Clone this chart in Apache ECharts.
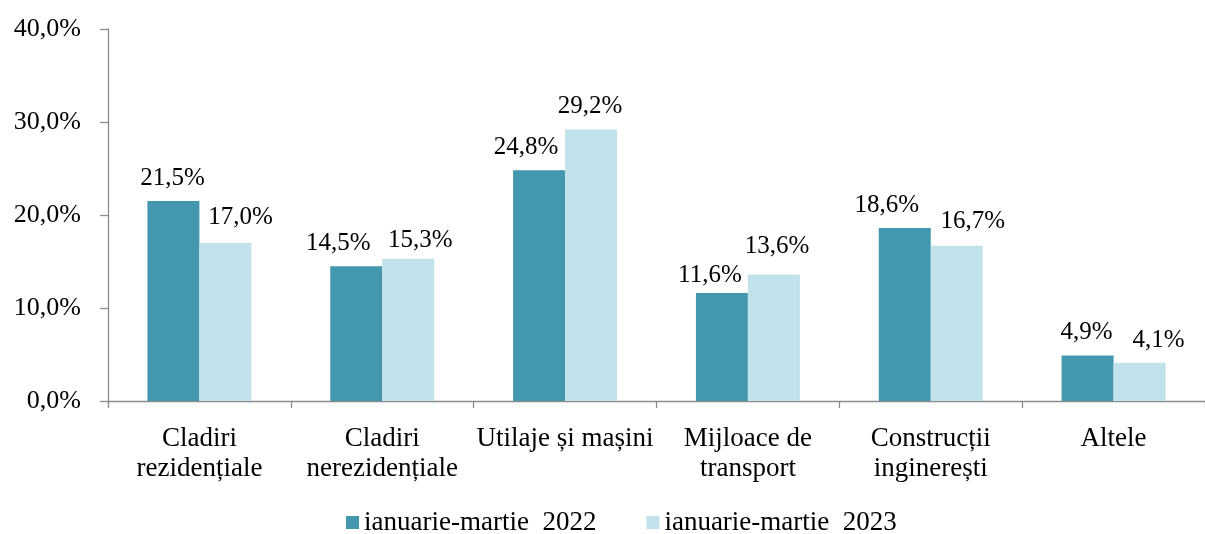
<!DOCTYPE html>
<html><head><meta charset="utf-8">
<script src="https://cdn.jsdelivr.net/npm/echarts@6/dist/echarts.min.js"></script>
<style>html,body{margin:0;padding:0;background:#fff}#c{width:1205px;height:534px}</style>
</head><body><div id="c"></div>
<script>
const categories = ['Cladiri\nrezidențiale','Cladiri\nnerezidențiale','Utilaje și mașini','Mijloace de\ntransport','Construcții\ninginerești','Altele'];
const seriesNames = ['ianuarie-martie  2022','ianuarie-martie  2023'];
const values2022 = [21.5,14.5,24.8,11.6,18.6,4.9];
const values2023 = [17.0,15.3,29.2,13.6,16.7,4.1];
const yTicks = {min:0,max:40,interval:10};

// label nudges (style only)
const labelShift2022 = [[-1,0],[-18,0],[-13,0],[-12,5],[-18,0],[-1,0]];
const labelShift2023 = [[15,-2],[12,5],[-1,0],[3,-5],[16,-1],[19,1]];

const fmt = v => v.toFixed(1).replace('.',',') + '%';
const font = '"Liberation Serif","Times New Roman",serif';
const chart = echarts.init(document.getElementById('c'));
const lbl = {show:true,position:'top',distance:10,fontFamily:font,fontSize:25,lineHeight:26,color:'#000',formatter:p=>fmt(p.value)};
const mk = (vals, shifts) => vals.map((v,i)=>({value:v,label:{offset:shifts[i]}}));
chart.setOption({
  animation:false,
  textStyle:{fontFamily:font},
  grid:{left:108,right:-8,top:29,bottom:133},
  legend:{left:341,bottom:-7,itemWidth:13,itemHeight:13,itemGap:50,icon:'rect',
    textStyle:{fontFamily:font,fontSize:27,color:'#000'},data:seriesNames},
  xAxis:{type:'category',data:categories,
    axisLine:{lineStyle:{color:'#8c8c8c',width:1.3}},
    axisTick:{show:true,length:7,lineStyle:{color:'#8c8c8c',width:1.3}},
    axisLabel:{interval:0,margin:23,fontFamily:font,fontSize:27,color:'#000',lineHeight:30}},
  yAxis:{type:'value',min:yTicks.min,max:yTicks.max,interval:yTicks.interval,
    splitLine:{show:false},
    axisLine:{show:true,lineStyle:{color:'#8c8c8c',width:1.3}},
    axisTick:{show:true,length:8,lineStyle:{color:'#8c8c8c',width:1.3}},
    axisLabel:{margin:27,fontFamily:font,fontSize:26,color:'#000',formatter:v=>fmt(v)}},
  series:[
    {name:seriesNames[0],type:'bar',data:mk(values2022,labelShift2022),barWidth:52,barGap:'0%',itemStyle:{color:'#4397AF'},label:lbl},
    {name:seriesNames[1],type:'bar',data:mk(values2023,labelShift2023),barWidth:52,itemStyle:{color:'#C2E2EB'},label:lbl}
  ]
});
</script></body></html>
